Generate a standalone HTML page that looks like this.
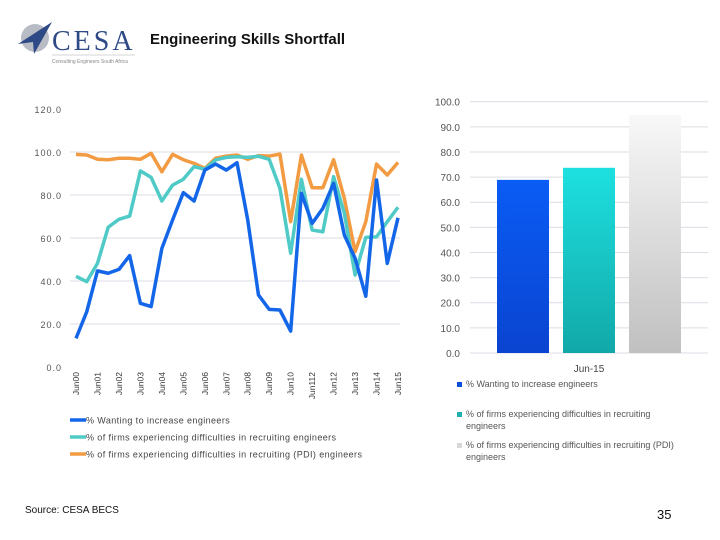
<!DOCTYPE html>
<html><head><meta charset="utf-8"><style>
body{margin:0;width:720px;height:540px;background:#fff;overflow:hidden;font-family:"Liberation Sans",sans-serif}
svg{position:absolute;left:0;top:0}
</style></head><body>
<svg width="720" height="540" id="s">
<g>
<circle cx="35" cy="38" r="14" fill="#b8bcc4"/>
<polygon points="18,44 52,22 34,54 33,42" fill="#2e4a86"/>
<text x="52" y="50" font-family="Liberation Serif" font-size="28" fill="#2e4a86" letter-spacing="3">CESA</text>
<line x1="52" y1="55" x2="135" y2="55" stroke="#aaa" stroke-width="0.6"/>
<text x="52" y="63" font-size="5" fill="#888">Consulting Engineers South Africa</text>
</g>
<text x="150" y="44" font-size="15" font-weight="bold" fill="#111">Engineering Skills Shortfall</text>
<g id="left"></g>
<g id="right"></g>
<text x="25" y="513" font-size="10" fill="#111">Source: CESA BECS</text>
<text x="657" y="519" font-size="13" fill="#111">35</text>
</svg>
<script>
const categories=["Jun00","Jun01","Jun02","Jun03","Jun04","Jun05","Jun06","Jun07","Jun08","Jun09","Jun10","Jun112","Jun12","Jun13","Jun14","Jun15"];
const yTicks=[0,20,40,60,80,100,120];
const seriesNames=["% Wanting to increase engineers","% of firms experiencing difficulties in recruiting engineers","% of firms experiencing difficulties in recruiting  (PDI) engineers"];
const wanting=[13.3,25.7,44.7,43.6,45.4,51.8,29.6,28.1,55.2,68.4,81.1,77.2,91.6,94.4,91.6,95,68.4,33.5,26.8,26.5,16.7,80.8,66.8,73.8,85.4,61.4,50.6,32.9,87,48.2,69.4];
const difficulty=[42.2,39.7,48.2,65,68.7,70.2,91.2,88.2,77.2,84.6,87.3,93.2,92,96.3,97.5,97.8,97.5,98,96.6,83.1,52.9,87.3,63.7,62.9,88.5,71.5,42.8,60.3,60.5,67.6,74.3];
const pdi=[98.9,98.6,96.6,96.4,97.1,97.1,96.6,99.4,90.8,98.9,96.4,94.7,92.4,97.1,98.1,98.6,96.6,98.3,98.1,99,67.6,98.6,83.4,83.4,96.4,78.5,53.6,67.6,94.4,89.3,95.2];
const barCategory="Jun-15";
const barValues=[68.9,73.7,94.8];
const barTicks=[0,10,20,30,40,50,60,70,80,90,100];
const NS="http://www.w3.org/2000/svg";
function mk(p,t,a){const e=document.createElementNS(NS,t);for(const k in a)e.setAttribute(k,a[k]);p.appendChild(e);return e;}
const L=document.getElementById('left');
const x0=76,x1=398;
const yL=v=>367-v*2.15;
const xL=i=>x0+i*(x1-x0)/(wanting.length-1);
yTicks.forEach(t=>{
 if(t>0&&t<120){const g=mk(L,'line',{x1:70,x2:400,y1:yL(t),y2:yL(t),stroke:'#dcdce4','stroke-width':1});
 
 }
 const tx=mk(L,'text',{x:62,y:yL(t)+4,'text-anchor':'end','font-size':9,fill:'#555','letter-spacing':'1'});
 tx.textContent=t.toFixed(1);
 
 
});
categories.forEach((c,i)=>{
 const x=x0+i*(x1-x0)/(categories.length-1);
 const tx=mk(L,'text',{x:0,y:0,transform:`translate(${x+3},372) rotate(-90)`,'text-anchor':'end','font-size':8.5,fill:'#333'});
 tx.textContent=c;
 
 
});
const cols=['#1466e8','#4fcac6','#f29b42'];
[pdi,difficulty,wanting].forEach((s,k)=>{
 const col=[cols[2],cols[1],cols[0]][k];
 const p=mk(L,'polyline',{points:s.map((v,i)=>xL(i)+','+yL(v)).join(' '),fill:'none',stroke:col,'stroke-width':3.5,'stroke-linejoin':'round'});
 
 
});
seriesNames.forEach((n,i)=>{
 const y=420+i*17;
 const l=mk(L,'line',{x1:70,x2:86,y1:y,y2:y,stroke:cols[i],'stroke-width':3.5});
 
 
 const t=mk(L,'text',{x:86,y:y+3.5,'font-size':9,fill:'#444','letter-spacing':'0.4'});
 t.textContent=n;
 
 
});
const R=document.getElementById('right');
const yR=v=>353-v*2.513;
const defs=mk(R,'defs',{});
const grads=[['#0a5cf5','#0a44d0'],['#1ee0e0','#12a8a8'],['#f8f8f8','#c0c0c0']];
grads.forEach((g,i)=>{const lg=mk(defs,'linearGradient',{id:'g'+i,x1:0,y1:0,x2:0,y2:1});mk(lg,'stop',{offset:0,'stop-color':g[0]});mk(lg,'stop',{offset:1,'stop-color':g[1]});});
barTicks.forEach(t=>{
 const g=mk(R,'line',{x1:470,x2:708,y1:yR(t),y2:yR(t),stroke:'#dcdce4','stroke-width':1});
 
 
 const tx=mk(R,'text',{x:460,y:yR(t)+4,'text-anchor':'end','font-size':10,fill:'#555'});
 tx.textContent=t.toFixed(1);
 
 
});
barValues.forEach((v,i)=>{
 const x=497+i*66;
 const r=mk(R,'rect',{x:x,y:yR(v),width:52,height:yR(0)-yR(v),fill:`url(#g${i})`});
 
 
});
const bc=mk(R,'text',{x:589,y:372,'text-anchor':'middle','font-size':10,fill:'#444'});
bc.textContent=barCategory;


const lg=[[seriesNames[0]],['% of firms experiencing difficulties in recruiting','engineers'],['% of firms experiencing difficulties in recruiting  (PDI)','engineers']];
const lgY=[387,417,448];const lgC=['#0a4fd8','#20b0b0','#d8d8d8'];
lg.forEach((lines,i)=>{
 const s=mk(R,'rect',{x:457,y:lgY[i]-5,width:5,height:5,fill:lgC[i]});
 
 
 lines.forEach((ln,j)=>{
  const t=mk(R,'text',{x:466,y:lgY[i]+j*12,'font-size':9,fill:'#555'});
  t.textContent=ln;
  
  
 });
});
</script>
</body></html>
